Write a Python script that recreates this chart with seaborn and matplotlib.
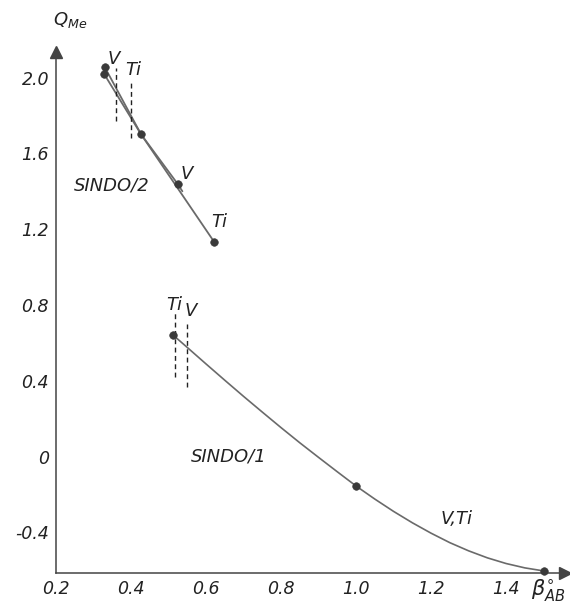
import matplotlib
matplotlib.use("Agg")
import matplotlib.pyplot as plt
import seaborn as sns
import pandas as pd

# ---- data ----
# SINDO/2 lines
sindo2_v_x = [0.330, 0.427, 0.524, 0.537]
sindo2_v_y = [2.055, 1.700, 1.440, 1.400]
sindo2_ti_x = [0.328, 0.427, 0.621]
sindo2_ti_y = [2.020, 1.700, 1.135]
sindo2_pts_x = [0.330, 0.328, 0.427, 0.524, 0.621]
sindo2_pts_y = [2.055, 2.020, 1.700, 1.440, 1.135]

# SINDO/1 curve (V, Ti coincide)
sindo1_x = [0.513, 0.55, 0.6, 0.65, 0.7, 0.75, 0.8, 0.85, 0.9, 0.95, 1.0,
            1.05, 1.1, 1.15, 1.2, 1.25, 1.3, 1.35, 1.4, 1.45, 1.5]
sindo1_y = [0.640, 0.576, 0.489, 0.403, 0.318, 0.235, 0.153, 0.073, -0.004, -0.080, -0.155,
            -0.224, -0.289, -0.349, -0.404, -0.454, -0.497, -0.534, -0.564, -0.587, -0.603]
sindo1_pts_x = [0.513, 1.0, 1.5]
sindo1_pts_y = [0.640, -0.155, -0.603]

# dashed vertical markers (x, y_top, y_bottom)
dash_x = [0.359, 0.401, 0.517, 0.549]
dash_top = [2.05, 1.98, 0.76, 0.70]
dash_bot = [1.77, 1.68, 0.42, 0.37]

x_ticks = [0.2, 0.4, 0.6, 0.8, 1.0, 1.2, 1.4]
x_tick_labels = ["0.2", "0.4", "0.6", "0.8", "1.0", "1.2", "1.4"]
y_ticks = [-0.4, 0.0, 0.4, 0.8, 1.2, 1.6, 2.0]
y_tick_labels = ["-0.4", "0", "0.4", "0.8", "1.2", "1.6", "2.0"]

sns.set_style("white")
plt.rcParams["font.family"] = ["DejaVu Sans"]

fig = plt.figure(figsize=(5.7, 6.03), dpi=100)
ax = fig.add_axes([56/570, 30/603, (565-56)/570, (573-52)/603])

line_col = "#6a6a6a"
mk_col = "#3a3a3a"

df_v = pd.DataFrame({"x": sindo2_v_x, "y": sindo2_v_y})
df_t = pd.DataFrame({"x": sindo2_ti_x, "y": sindo2_ti_y})
df_1 = pd.DataFrame({"x": sindo1_x, "y": sindo1_y})
sns.lineplot(data=df_v, x="x", y="y", sort=False, color=line_col, lw=1.3, ax=ax)
sns.lineplot(data=df_t, x="x", y="y", sort=False, color=line_col, lw=1.3, ax=ax)
sns.lineplot(data=df_1, x="x", y="y", sort=False, color=line_col, lw=1.2, ax=ax)
sns.scatterplot(x=sindo2_pts_x, y=sindo2_pts_y, color=mk_col, s=30, edgecolor=mk_col, ax=ax, zorder=5)
sns.scatterplot(x=sindo1_pts_x, y=sindo1_pts_y, color=mk_col, s=30, edgecolor=mk_col, ax=ax, zorder=5, clip_on=False)

for xx, yt, yb in zip(dash_x, dash_top, dash_bot):
    ax.plot([xx, xx], [yb, yt], color="#222222", lw=1.0, ls=(0, (3.5, 2.5)))

ax.set_xlim(0.2, 1.557)
ax.set_ylim(-0.614, 2.135)

ax.set_xticks(x_ticks)
ax.set_xticklabels(x_tick_labels)
ax.set_xticks([0.3, 0.5, 0.7, 0.9, 1.1, 1.3, 1.5], minor=True)
ax.set_yticks(y_ticks)
ax.set_yticklabels(y_tick_labels)
ax.set_yticks([-0.2, 0.2, 0.6, 1.0, 1.4, 1.8], minor=True)
ax.tick_params(which="both", direction="in", length=7, width=1.0, color="#444444",
               labelsize=12.5, pad=5, labelcolor="#222222")
for lbl in ax.get_xticklabels() + ax.get_yticklabels():
    lbl.set_fontstyle("italic")

for s in ["top", "right"]:
    ax.spines[s].set_visible(False)
for s in ["left", "bottom"]:
    ax.spines[s].set_color("#444444")
    ax.spines[s].set_linewidth(1.1)
ax.plot(1, 0, ">", color="#444444", ms=8, transform=ax.transAxes, clip_on=False)
ax.plot(0, 1, "^", color="#444444", ms=8, transform=ax.transAxes, clip_on=False)
ax.set_xlabel("")
ax.set_ylabel("")

txt = dict(fontstyle="italic", fontsize=13, color="#222222")
ax.text(0.355, 2.10, "V", ha="center", va="center", **txt)
ax.text(0.405, 2.04, "Ti", ha="center", va="center", **txt)
ax.text(0.548, 1.49, "V", ha="center", va="center", **txt)
ax.text(0.634, 1.24, "Ti", ha="center", va="center", **txt)
ax.text(0.247, 1.43, "SINDO/2", ha="left", va="center", **txt)
ax.text(0.515, 0.80, "Ti", ha="center", va="center", **txt)
ax.text(0.558, 0.77, "V", ha="center", va="center", **txt)
ax.text(0.56, 0.0, "SINDO/1", ha="left", va="center", **txt)
ax.text(1.225, -0.33, "V,Ti", ha="left", va="center", **txt)

fig.text(70/570, 1 - 20/603, r"$Q_{Me}$", ha="center", va="center", fontsize=13,
         color="#222222", fontstyle="italic")
fig.text(548/570, 1 - 590/603, r"$\beta^{\circ}_{AB}$", ha="center", va="center",
         fontsize=15, color="#222222")

fig.savefig("out.png", dpi=100, facecolor="white")
